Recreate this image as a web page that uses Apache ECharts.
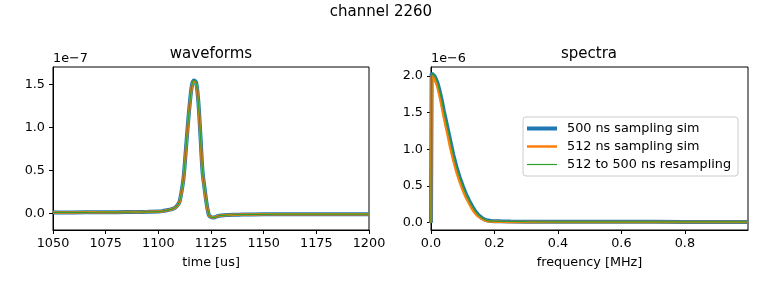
<!DOCTYPE html>
<html>
<head>
<meta charset="utf-8">
<script src="https://cdn.jsdelivr.net/npm/echarts@6/dist/echarts.min.js"></script>
<style>
html,body{margin:0;padding:0;background:#fff;}
#chart{width:762px;height:286px;}
</style>
</head>
<body>
<div id="chart"></div>
<script>
// ---- data ----
var suptitle = 'channel 2260';
var seriesNames = ['500 ns sampling sim', '512 ns sampling sim', '512 to 500 ns resampling'];

// waveforms: time [us], amplitude in units of 1e-7
var waveTime = [1050,1060,1070,1080,1090,1095,1100,1102,1104,1106,1107,1108,1109,1110,1111,1112,1113,1114,1115,1116,1117,1118,1119,1120,1121,1122,1123,1124,1125,1126,1127,1128,1130,1133,1136,1140,1150,1160,1170,1180,1190,1200];
var waveBlue   = [0.01,0.01,0.012,0.013,0.015,0.017,0.02,0.025,0.035,0.045,0.055,0.066,0.09,0.13,0.25,0.42,0.72,1.03,1.3,1.5,1.55,1.52,1.3,0.9,0.48,0.28,0.1,-0.02,-0.045,-0.05,-0.045,-0.035,-0.025,-0.02,-0.017,-0.015,-0.012,-0.01,-0.01,-0.01,-0.01,-0.01];
var waveOrange = [0.01,0.01,0.012,0.013,0.015,0.017,0.02,0.025,0.034,0.044,0.054,0.065,0.088,0.128,0.245,0.415,0.71,1.02,1.29,1.49,1.54,1.51,1.29,0.89,0.47,0.27,0.095,-0.02,-0.045,-0.05,-0.045,-0.035,-0.025,-0.02,-0.017,-0.015,-0.012,-0.01,-0.01,-0.01,-0.01,-0.01];
var waveGreen  = [0.01,0.01,0.012,0.013,0.015,0.017,0.02,0.025,0.035,0.045,0.055,0.066,0.09,0.13,0.25,0.42,0.72,1.03,1.3,1.5,1.55,1.52,1.3,0.9,0.48,0.28,0.1,-0.02,-0.045,-0.05,-0.045,-0.035,-0.025,-0.02,-0.017,-0.015,-0.012,-0.01,-0.01,-0.01,-0.01,-0.01];

// spectra: frequency [MHz], magnitude in units of 1e-6
var specFreq   = [0,0.002,0.005,0.01,0.015,0.02,0.025,0.03,0.035,0.04,0.05,0.06,0.07,0.08,0.09,0.10,0.11,0.12,0.13,0.14,0.15,0.16,0.17,0.18,0.19,0.20,0.22,0.25,0.30,0.40,0.50,0.60,0.70,0.80,0.90,0.999];
var specBlue   = [0,2.03,2.025,2.0,1.96,1.91,1.83,1.74,1.64,1.53,1.33,1.13,0.93,0.76,0.62,0.5,0.39,0.3,0.22,0.15,0.1,0.065,0.04,0.028,0.022,0.02,0.018,0.016,0.014,0.012,0.012,0.011,0.011,0.01,0.01,0.01];
var specOrange = [0,2.0,1.99,1.96,1.91,1.85,1.76,1.66,1.55,1.44,1.24,1.03,0.85,0.69,0.56,0.44,0.34,0.26,0.18,0.12,0.08,0.05,0.03,0.02,0.015,0.012,0.011,0.01,0.01,0.01,0.01,0.01,0.01,0.01,0.01,0.01];
var specGreen  = [0,2.04,2.035,2.01,1.97,1.91,1.83,1.74,1.64,1.53,1.33,1.13,0.93,0.76,0.62,0.5,0.39,0.3,0.22,0.15,0.1,0.065,0.04,0.028,0.022,0.02,0.018,0.016,0.014,0.012,0.012,0.011,0.011,0.01,0.01,0.01];

var waveXTicks = [1050,1075,1100,1125,1150,1175,1200];
var waveYTicks = [0,0.5,1.0,1.5];
var specXTicks = [0,0.2,0.4,0.6,0.8];
var specYTicks = [0,0.5,1.0,1.5,2.0];

// ---- chart ----
var FONT = 'DejaVu Sans';
var FS = 12.8;
var colors = ['#1f77b4', '#ff7f0e', '#2ca02c'];
var widths = [4, 2.5, 1.2];

function pairs(xs, ys) { return xs.map(function (x, i) { return [x, ys[i]]; }); }

function xAxis(gi, min, max, ticks, name, dec) {
  return {
    type: 'value', gridIndex: gi, min: min, max: max,
    name: name, nameLocation: 'middle', nameGap: 26,
    nameTextStyle: { color: '#000', fontFamily: FONT, fontSize: FS },
    axisLine: { show: true, onZero: false, lineStyle: { color: '#000', width: 1 } },
    axisTick: { show: true, length: 4, lineStyle: { color: '#000' }, customValues: ticks },
    axisLabel: { color: '#000', fontFamily: FONT, fontSize: FS, margin: 7, customValues: ticks,
      formatter: function (v) { return dec ? v.toFixed(dec) : String(v); } },
    splitLine: { show: false }
  };
}
function yAxis(gi, min, max, ticks) {
  return {
    type: 'value', gridIndex: gi, min: min, max: max,
    axisLine: { show: true, onZero: false, lineStyle: { color: '#000', width: 1 } },
    axisTick: { show: true, length: 4, lineStyle: { color: '#000' }, customValues: ticks },
    axisLabel: { color: '#000', fontFamily: FONT, fontSize: FS, margin: 8, customValues: ticks,
      formatter: function (v) { return v.toFixed(1); } },
    splitLine: { show: false }
  };
}
function line(name, gi, data, k, smooth) {
  return {
    name: name, type: 'line', xAxisIndex: gi, yAxisIndex: gi,
    data: data, smooth: smooth, showSymbol: false, symbol: 'none',
    lineStyle: { color: colors[k], width: widths[k] },
    itemStyle: { color: colors[k] },
    animation: false, z: 2 + k
  };
}

var chart = echarts.init(document.getElementById('chart'), null, { renderer: 'canvas' });
chart.setOption({
  animation: false,
  backgroundColor: '#fff',
  textStyle: { fontFamily: FONT },
  title: [
    { text: suptitle, left: 'center', top: 5, padding: 0, textStyle: { fontFamily: FONT, fontSize: 15, fontWeight: 'normal', color: '#000' } },
    { text: 'waveforms', left: 211, top: 47, padding: 0, textAlign: 'center', textStyle: { fontFamily: FONT, fontSize: 15, fontWeight: 'normal', color: '#000' } },
    { text: 'spectra', left: 589, top: 47, padding: 0, textAlign: 'center', textStyle: { fontFamily: FONT, fontSize: 15, fontWeight: 'normal', color: '#000' } }
  ],
  grid: [
    { left: 53, top: 67, width: 316, height: 163, show: true, borderColor: '#000', borderWidth: 1, backgroundColor: 'transparent' },
    { left: 431, top: 67, width: 317, height: 163, show: true, borderColor: '#000', borderWidth: 1, backgroundColor: 'transparent' }
  ],
  xAxis: [
    xAxis(0, 1050, 1200, waveXTicks, 'time [us]', 0),
    xAxis(1, 0, 0.999, specXTicks, 'frequency [MHz]', 1)
  ],
  yAxis: [
    yAxis(0, -0.195, 1.707, waveYTicks),
    yAxis(1, -0.1, 2.12, specYTicks)
  ],
  legend: {
    orient: 'vertical', left: 523, top: 117,
    data: [
      { name: seriesNames[0], icon: 'path://M0,0 H30 V4 H0 Z' },
      { name: seriesNames[1], icon: 'path://M0,0 H30 V2.5 H0 Z' },
      { name: seriesNames[2], icon: 'path://M0,0 H30 V1.2 H0 Z' }
    ],
    itemWidth: 30, itemHeight: 14, itemGap: 5, symbolKeepAspect: true,
    padding: [5, 7, 5, 4],
    borderColor: '#cccccc', borderWidth: 1, borderRadius: 3,
    backgroundColor: 'rgba(255,255,255,0.8)',
    textStyle: { color: '#000', fontFamily: FONT, fontSize: FS, padding: [0, 0, 0, 5] },
    selectedMode: false
  },
  graphic: [
    { type: 'text', left: 53, top: 52, style: { text: '1e\u22127', font: FS + 'px "DejaVu Sans"', fill: '#000' } },
    { type: 'text', left: 431, top: 52, style: { text: '1e\u22126', font: FS + 'px "DejaVu Sans"', fill: '#000' } }
  ],
  series: [
    line(seriesNames[0], 0, pairs(waveTime, waveBlue), 0, 0.3),
    line(seriesNames[1], 0, pairs(waveTime, waveOrange), 1, 0.3),
    line(seriesNames[2], 0, pairs(waveTime, waveGreen), 2, 0.3),
    line(seriesNames[0], 1, pairs(specFreq, specBlue), 0, false),
    line(seriesNames[1], 1, pairs(specFreq, specOrange), 1, false),
    line(seriesNames[2], 1, pairs(specFreq, specGreen), 2, false)
  ]
});
</script>
</body>
</html>
